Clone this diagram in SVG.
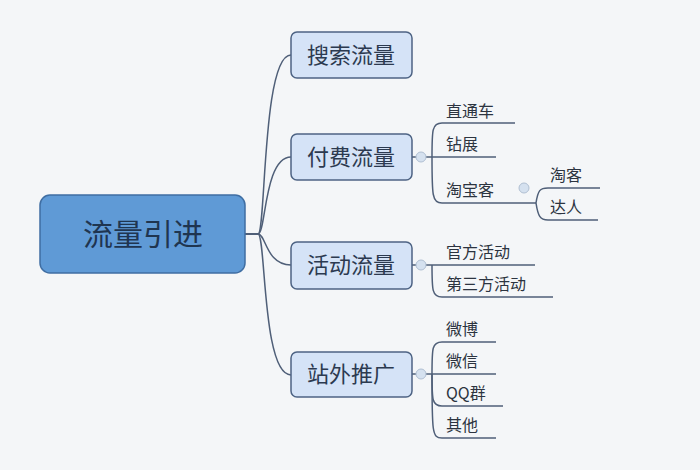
<svg xmlns="http://www.w3.org/2000/svg" width="700" height="470" viewBox="0 0 700 470">
<style>
.l1 rect{fill:#d5e3f7;stroke:#4d6384;stroke-width:1.5}
.l1 text{font-family:"Noto Sans CJK SC",sans-serif;font-size:22px;fill:#2c3a50;text-anchor:middle}
.l2{font-family:"Noto Sans CJK SC",sans-serif;font-size:16px;fill:#2c3440}
#conn path{fill:none;stroke:#4f5f78;stroke-width:1.5}
.dot{fill:#d5e1ef;stroke:#b0bfd2;stroke-width:1}
</style>
<rect width="700" height="470" fill="#f4f6f8"/>
<g id="conn">
<path d="M245,234 H258 C266,234 262,55 291,55"/>
<path d="M245,234 H258 C266,234 264,157 291,157"/>
<path d="M245,234 H258 C266,234 266,265 291,265"/>
<path d="M245,234 H258 C266,234 262,375 291,375"/>
<path d="M412,157 H432"/>
<path d="M432,157 C432,130 432,123 442,123 H515"/>
<path d="M432,157 H496"/>
<path d="M432,157 C432,195 432,203 442,203 H536"/>
<path d="M536,203 C538,190 540,188 548,188 H600"/>
<path d="M536,203 C538,216 540,220 548,220 H598"/>
<path d="M412,265 H432 H535"/>
<path d="M432,265 C432,290 432,297 442,297 H553"/>
<path d="M412,374 H496"/>
<path d="M432,374 C432,348 432,342 442,342 H496"/>
<path d="M432,374 C432,400 432,406 442,406 H503"/>
<path d="M432,374 C432,432 432,438 442,438 H496"/>
</g>
<circle class="dot" cx="421" cy="157" r="5"/>
<circle class="dot" cx="421" cy="265" r="5"/>
<circle class="dot" cx="421" cy="374" r="5"/>
<circle class="dot" cx="524" cy="188" r="5"/>
<g id="root"><rect x="40" y="195" width="205" height="78" rx="10" fill="#5f9ad6" stroke="#3f6ea3" stroke-width="1.5"/>
<text x="143" y="245" font-family="Noto Sans CJK SC,sans-serif" font-size="30" fill="#1f3550" text-anchor="middle">流量引进</text></g>
<g id="n1" class="l1"><rect x="291" y="32" width="121" height="46" rx="6"/><text x="351" y="63">搜索流量</text></g>
<g id="n2" class="l1"><rect x="291" y="134" width="121" height="46" rx="6"/><text x="351" y="165">付费流量</text></g>
<g id="n3" class="l1"><rect x="291" y="242" width="121" height="47" rx="6"/><text x="351" y="273">活动流量</text></g>
<g id="n4" class="l1"><rect x="291" y="352" width="121" height="45" rx="6"/><text x="351" y="382">站外推广</text></g>
<g id="c1"><text class="l2" x="446" y="117">直通车</text></g>
<g id="c2"><text class="l2" x="446" y="150">钻展</text></g>
<g id="c3"><text class="l2" x="446" y="196">淘宝客</text></g>
<g id="c4"><text class="l2" x="550" y="181">淘客</text></g>
<g id="c5"><text class="l2" x="550" y="213">达人</text></g>
<g id="c6"><text class="l2" x="446" y="258">官方活动</text></g>
<g id="c7"><text class="l2" x="446" y="290">第三方活动</text></g>
<g id="c8"><text class="l2" x="446" y="335">微博</text></g>
<g id="c9"><text class="l2" x="446" y="367">微信</text></g>
<g id="c10"><text class="l2" x="446" y="399">QQ群</text></g>
<g id="c11"><text class="l2" x="446" y="431">其他</text></g>
</svg>
